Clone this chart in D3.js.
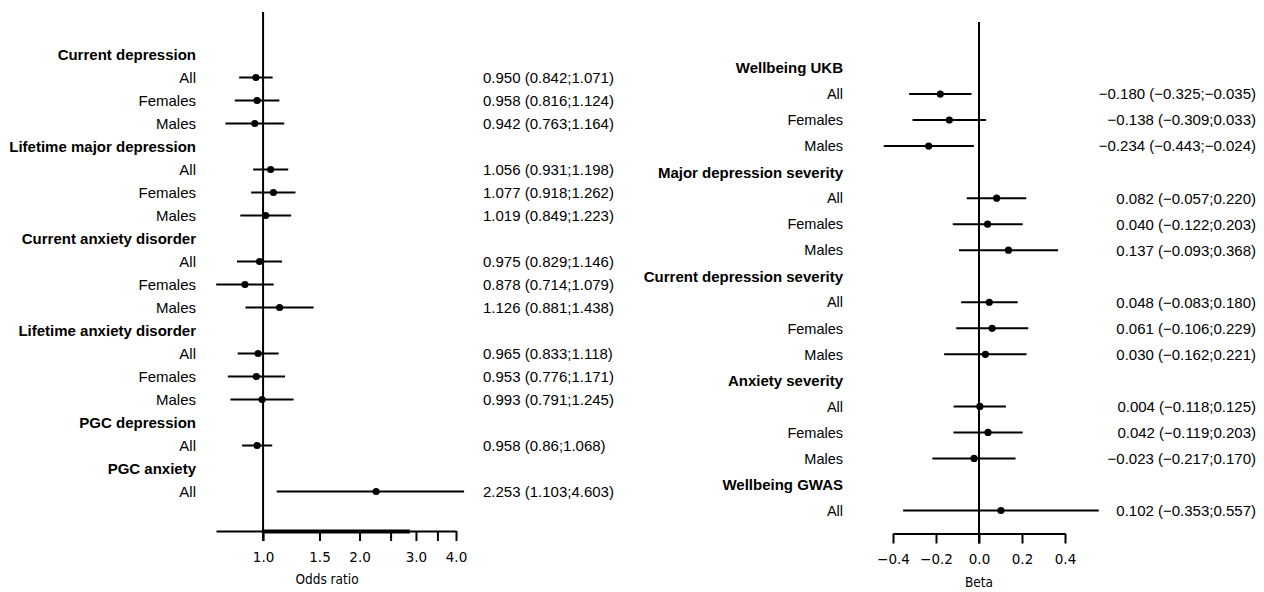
<!DOCTYPE html>
<html>
<head>
<meta charset="utf-8">
<script src="https://cdn.jsdelivr.net/npm/d3@7"></script>
<style>
  html, body { margin: 0; padding: 0; background: #fff; }
  svg { display: block; }
</style>
</head>
<body>
<svg id="chart" width="1264" height="592"></svg>
<script>
// ---- left panel: odds ratios ----
const orLabels = [
  "Current depression", "All", "Females", "Males",
  "Lifetime major depression", "All", "Females", "Males",
  "Current anxiety disorder", "All", "Females", "Males",
  "Lifetime anxiety disorder", "All", "Females", "Males",
  "PGC depression", "All",
  "PGC anxiety", "All"
];
const orIsHeader = [1,0,0,0, 1,0,0,0, 1,0,0,0, 1,0,0,0, 1,0, 1,0];
const orEst = [null,0.950,0.958,0.942, null,1.056,1.077,1.019, null,0.975,0.878,1.126, null,0.965,0.953,0.993, null,0.958, null,2.253];
const orLow = [null,0.842,0.816,0.763, null,0.931,0.918,0.849, null,0.829,0.714,0.881, null,0.833,0.776,0.791, null,0.86, null,1.103];
const orHigh = [null,1.071,1.124,1.164, null,1.198,1.262,1.223, null,1.146,1.079,1.438, null,1.118,1.171,1.245, null,1.068, null,4.603];
const orText = [null,"0.950 (0.842;1.071)","0.958 (0.816;1.124)","0.942 (0.763;1.164)",
  null,"1.056 (0.931;1.198)","1.077 (0.918;1.262)","1.019 (0.849;1.223)",
  null,"0.975 (0.829;1.146)","0.878 (0.714;1.079)","1.126 (0.881;1.438)",
  null,"0.965 (0.833;1.118)","0.953 (0.776;1.171)","0.993 (0.791;1.245)",
  null,"0.958 (0.86;1.068)", null,"2.253 (1.103;4.603)"];
const orTicks = [1, 1.5, 2, 2.5, 3, 3.5, 4];
const orTickLabels = ["1.0", "1.5", "2.0", "", "3.0", "", "4.0"];
const orDomain = [0.713, 4];
const orClip = 4.24;           // whiskers are cut off here in the reference
const orAxisOverlay = [1, 2.87]; // darker part of the axis line
const orRef = 1;

// ---- right panel: betas ----
const bLabels = [
  "Wellbeing UKB", "All", "Females", "Males",
  "Major depression severity", "All", "Females", "Males",
  "Current depression severity", "All", "Females", "Males",
  "Anxiety severity", "All", "Females", "Males",
  "Wellbeing GWAS", "All"
];
const bIsHeader = [1,0,0,0, 1,0,0,0, 1,0,0,0, 1,0,0,0, 1,0];
const bEst = [null,-0.180,-0.138,-0.234, null,0.082,0.040,0.137, null,0.048,0.061,0.030, null,0.004,0.042,-0.023, null,0.102];
const bLow = [null,-0.325,-0.309,-0.443, null,-0.057,-0.122,-0.093, null,-0.083,-0.106,-0.162, null,-0.118,-0.119,-0.217, null,-0.353];
const bHigh = [null,-0.035,0.033,-0.024, null,0.220,0.203,0.368, null,0.180,0.229,0.221, null,0.125,0.203,0.170, null,0.557];
const bText = [null,"\u22120.180 (\u22120.325;\u22120.035)","\u22120.138 (\u22120.309;0.033)","\u22120.234 (\u22120.443;\u22120.024)",
  null,"0.082 (\u22120.057;0.220)","0.040 (\u22120.122;0.203)","0.137 (\u22120.093;0.368)",
  null,"0.048 (\u22120.083;0.180)","0.061 (\u22120.106;0.229)","0.030 (\u22120.162;0.221)",
  null,"0.004 (\u22120.118;0.125)","0.042 (\u22120.119;0.203)","\u22120.023 (\u22120.217;0.170)",
  null,"0.102 (\u22120.353;0.557)"];
const bTicks = [-0.4, -0.2, 0, 0.2, 0.4];
const bDomain = [-0.4, 0.4];
const bRef = 0;

const labelFont = "'Liberation Sans', Arial, sans-serif";
const axisFont = "'DejaVu Sans', Verdana, sans-serif";
const titleFont = "'DejaVu Sans Condensed', 'DejaVu Sans', Verdana, sans-serif";
const svg = d3.select("#chart");

function panel(cfg) {
  const g = svg.append("g");
  const idx = cfg.labels.map((d, i) => i);
  const y = d3.scalePoint().domain(idx).range(cfg.yRange);
  const x = cfg.x;

  // reference line
  g.append("line")
    .attr("x1", x(cfg.ref)).attr("x2", x(cfg.ref))
    .attr("y1", cfg.refTop).attr("y2", cfg.axisY + 10)
    .attr("stroke", "#000").attr("stroke-width", 2);

  // labels
  g.selectAll("text.lab")
    .data(idx)
    .join("text")
    .attr("class", "lab")
    .attr("x", cfg.labelX)
    .attr("y", i => y(i))
    .attr("dy", "0.36em")
    .attr("text-anchor", "end")
    .attr("font-family", labelFont)
    .attr("font-size", i => cfg.isHeader[i] ? cfg.headerSize : cfg.labelSize)
    .attr("font-weight", i => cfg.isHeader[i] ? "bold" : "normal")
    .attr("fill", "#000")
    .text(i => cfg.labels[i]);

  const rows = idx.filter(i => cfg.est[i] !== null);

  // whiskers
  g.selectAll("line.ci")
    .data(rows)
    .join("line")
    .attr("class", "ci")
    .attr("x1", i => x(cfg.low[i]))
    .attr("x2", i => x(Math.min(cfg.high[i], cfg.clip)))
    .attr("y1", i => y(i)).attr("y2", i => y(i))
    .attr("stroke", "#000").attr("stroke-width", 2);

  // points
  g.selectAll("circle")
    .data(rows)
    .join("circle")
    .attr("cx", i => x(cfg.est[i]))
    .attr("cy", i => y(i))
    .attr("r", 3.6)
    .attr("fill", "#000");

  // estimate text
  g.selectAll("text.est")
    .data(rows)
    .join("text")
    .attr("class", "est")
    .attr("x", cfg.textX)
    .attr("y", i => y(i))
    .attr("dy", "0.36em")
    .attr("text-anchor", cfg.textAnchor)
    .attr("font-family", labelFont)
    .attr("font-size", "15px")
    .attr("fill", "#000")
    .text(i => cfg.text[i]);

  // axis
  const ax = g.append("g")
    .attr("transform", `translate(0,${cfg.axisY})`)
    .call(d3.axisBottom(x)
      .tickValues(cfg.ticks)
      .tickSize(10)
      .tickSizeOuter(0)
      .tickPadding(11)
      .tickFormat((d, i) => cfg.tickLabels[i]));
  ax.select(".domain").attr("stroke-width", 2);
  ax.selectAll(".tick line").attr("stroke-width", 2);
  ax.selectAll(".tick text")
    .attr("font-family", axisFont)
    .attr("font-size", "13.5px")
    .attr("fill", "#000");

  if (cfg.overlay) {
    g.append("line")
      .attr("x1", x(cfg.overlay[0])).attr("x2", x(cfg.overlay[1]))
      .attr("y1", cfg.axisY + 0.5).attr("y2", cfg.axisY + 0.5)
      .attr("stroke", "#000").attr("stroke-width", 4);
  }

  g.append("text")
    .attr("x", cfg.titleX)
    .attr("y", cfg.axisY + 53)
    .attr("text-anchor", "middle")
    .attr("font-family", titleFont)
    .attr("font-size", "13.5px")
    .attr("fill", "#000")
    .text(cfg.title);
}

const xOR = d3.scaleLog().domain(orDomain).range([216, 456]);
panel({
  labels: orLabels, isHeader: orIsHeader, est: orEst, low: orLow, high: orHigh, text: orText,
  x: xOR, ref: orRef, clip: orClip, ticks: orTicks, tickLabels: orTickLabels,
  overlay: orAxisOverlay,
  yRange: [54.5, 491.5], refTop: 12, axisY: 531,
  labelX: 196, labelSize: "15px", headerSize: "15px", textX: 483, textAnchor: "start",
  title: "Odds ratio", titleX: 327
});

const xB = d3.scaleLinear().domain(bDomain).range([893, 1065]);
panel({
  labels: bLabels, isHeader: bIsHeader, est: bEst, low: bLow, high: bHigh, text: bText,
  x: xB, ref: bRef, clip: Infinity, ticks: bTicks,
  tickLabels: bTicks.map(d => d3.format(".1f")(d)),
  overlay: null,
  yRange: [68, 510.5], refTop: 22, axisY: 533.5,
  labelX: 843, labelSize: "14.5px", headerSize: "15px", textX: 1256, textAnchor: "end",
  title: "Beta", titleX: 979
});
</script>
</body>
</html>
